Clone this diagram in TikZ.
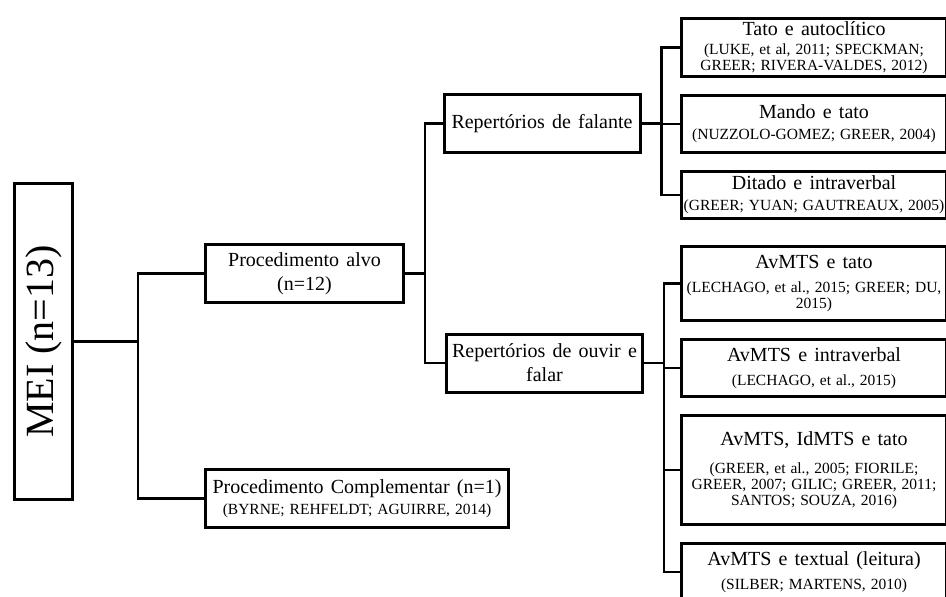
\documentclass[tikz,border=0pt]{standalone}
\usepackage{fontspec}
\setmainfont{Liberation Serif}
\usepackage{graphicx}
\usetikzlibrary{positioning}

\newcommand\hdfont{\fontsize{20}{24}\selectfont\spaceskip=0.36em\relax}
\newcommand\refsfont{\fontsize{15.5}{16}\selectfont\spaceskip=0.32em\relax}
\newcommand\leaftext[3][5pt]{{\hdfont #2\par}\vspace{#1}{\refsfont #3\par}}

\begin{document}
\begin{tikzpicture}[
  x=1pt, y=-1pt,
  box/.style={draw=black, line width=3pt, align=center, inner sep=2pt},
  mid/.style={box, minimum width=196pt, minimum height=58pt, font=\hdfont},
  leaf/.style={box, text width=264pt, inner xsep=0.5pt, inner ysep=1pt},
  link/.style={line width=2.8pt},
]
  \useasboundingbox (0,0) rectangle (946,597);
  \clip (0,0) rectangle (946,597);

  % --- root ---
  \node[box, minimum width=58pt, minimum height=316pt] (mei) at (43.5,341.5)
    {\rotatebox{90}{\fontsize{40}{40}\selectfont MEI (n=13)}};

  % --- procedimentos ---
  \node[mid, minimum width=198pt] (alvo) at (304.5,273.5)
    {Procedimento alvo\\(n=12)};
  \node[leaf, text width=302pt, minimum height=58pt] (comp) at (357,498.5)
    {\leaftext{Procedimento Complementar (n=1)}{(BYRNE; REHFELDT; AGUIRRE, 2014)}};

  % --- repertorios ---
  \node[mid] (falante) at (542,123.5) {Repertórios de falante};
  \node[mid] (ouvir) at (544.5,363) {Repertórios de ouvir e\\falar};

  % --- falante leaves ---
  \node[leaf, anchor=north west, minimum height=58pt] (tato) at (680,17)
    {\leaftext[3pt]{Tato e autoclítico}{(LUKE, et al, 2011; SPECKMAN;\\GREER; RIVERA-VALDES, 2012)}};
  \node[leaf, minimum height=57pt, below=16pt of tato] (mando)
    {\leaftext{Mando e tato}{(NUZZOLO-GOMEZ; GREER, 2004)}};
  \node[leaf, minimum height=47pt, below=16pt of mando] (ditado)
    {\leaftext{Ditado e intraverbal}{(GREER; YUAN; GAUTREAUX, 2005)}};

  % --- ouvir e falar leaves ---
  \node[leaf, anchor=north west, minimum height=74pt] (avtato) at (680,245)
    {\leaftext[8pt]{AvMTS e tato}{(LECHAGO, et al., 2015; GREER; DU,\\2015)}};
  \node[leaf, minimum height=57pt, below=16pt of avtato] (avintra)
    {\leaftext[8pt]{AvMTS e intraverbal}{(LECHAGO, et al., 2015)}};
  \node[leaf, minimum height=109pt, below=16pt of avintra] (avid)
    {\leaftext[12pt]{AvMTS, IdMTS e tato}{(GREER, et al., 2005; FIORILE;\\GREER, 2007; GILIC; GREER, 2011;\\SANTOS; SOUZA, 2016)}};
  \node[leaf, minimum height=57pt, below=16pt of avid] (avtext)
    {\leaftext[8pt]{AvMTS e textual (leitura)}{(SILBER; MARTENS, 2010)}};

  % --- connectors ---
  \coordinate[right=64pt of mei] (jmei);
  \coordinate[right=20pt of alvo] (jalvo);
  \coordinate[right=20pt of falante] (jfal);
  \coordinate[right=20pt of ouvir] (jouv);

  \draw[link] (mei.east) -- (jmei);
  \draw[link] (alvo.west) -| (jmei) |- (comp.west);

  \draw[link] (alvo.east) -- (jalvo);
  \draw[link] (falante.west) -| (jalvo) |- (ouvir.west);

  \draw[link] (falante.east) -- (jfal);
  \draw[link] (tato.west) -| (jfal) |- (ditado.west);
  \draw[link] (jfal) |- (mando.west);

  \draw[link] (ouvir.east) -- (jouv);
  \draw[link] (avtato.west) -| (jouv) |- (avtext.west);
  \draw[link] (jouv) |- (avintra.west);
  \draw[link] (jouv) |- (avid.west);
\end{tikzpicture}
\end{document}
